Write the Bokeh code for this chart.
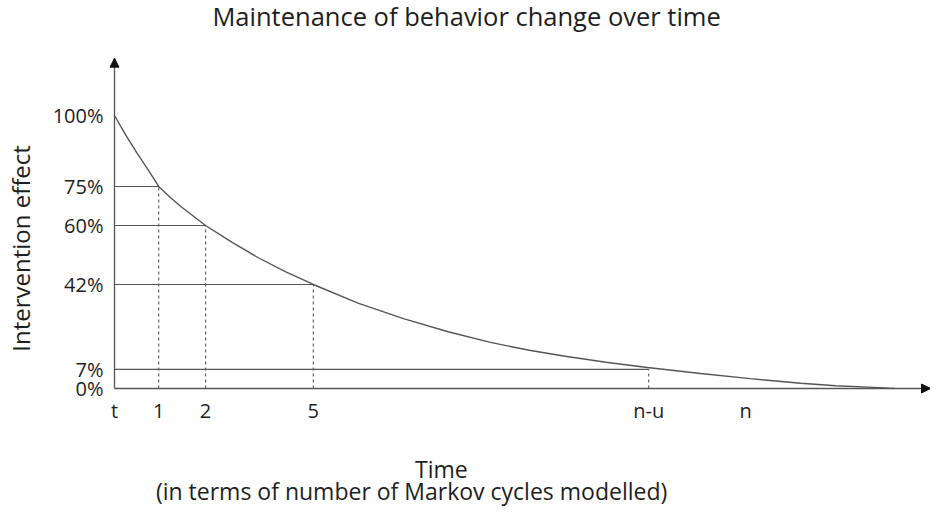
import math
from bokeh.plotting import figure
from bokeh.models import FixedTicker, Range1d, Arrow, NormalHead, Label, LinearAxis
from bokeh.embed import file_html
from bokeh.resources import INLINE

# ---- data ----
X_TICK_POS = [0, 0.98, 2.02, 4.41, 11.85, 14.0]
X_TICK_LABELS = ["t", "1", "2", "5", "n-u", "n"]
Y_TICK_POS = [0, 7.0, 38.1, 59.7, 74.0, 100]
Y_TICK_LABELS = ["0%", "7%", "42%", "60%", "75%", "100%"]

curve_x = [0, 0.25, 0.5, 0.75, 0.98, 1.25, 1.5, 2.02, 2.6, 3.2, 3.8, 4.41, 5.4, 6.41, 7.4,
           8.34, 9.2, 9.96, 10.9, 11.82, 13.0, 14.1, 15.22, 16.0, 16.84, 17.3]
curve_y = [100, 92.8, 86.2, 80.0, 74.0, 69.8, 66.3, 59.7, 53.6, 47.8, 42.7, 38.1, 31.3, 25.6, 20.8,
           16.9, 14.0, 11.9, 9.6, 7.7, 5.5, 3.6, 1.9, 1.0, 0.4, 0.0]

guide_x = [0.98, 2.02, 4.41, 11.85]
guide_y = [74.0, 59.7, 38.1, 7.0]

TITLE = "Maintenance of behavior change over time"
X_LABEL_1 = "Time"
X_LABEL_2 = "(in terms of number of Markov cycles modelled)"
Y_LABEL = "Intervention effect"

X_END = 18.1   # end of the time axis (arrow tip)
Y_END = 121    # end of the effect axis (arrow tip)

FONT = "Open Sans"
TXT = "#1e1e1e"
LINE = "#555555"

W, H = 930, 507
p = figure(width=W, height=H, output_backend="svg", toolbar_location=None,
           x_range=Range1d(-2.529, 18.10), y_range=Range1d(-43.59, 142.12),
           min_border=0, min_border_left=0, min_border_right=0,
           min_border_top=0, min_border_bottom=0,
           x_axis_location=None, y_axis_location=None)
p.outline_line_color = None
p.grid.visible = False
p.background_fill_color = "white"
p.border_fill_color = "white"

xa = LinearAxis(fixed_location=0, bounds=(0, X_END))
ya = LinearAxis(fixed_location=0, bounds=(0, Y_END))
p.add_layout(xa, "below")
p.add_layout(ya, "left")

for ax in (xa, ya):
    ax.axis_line_color = LINE
    ax.axis_line_width = 1.3
    ax.major_tick_line_color = None
    ax.minor_tick_line_color = None
    ax.major_label_text_font = FONT
    ax.major_label_text_font_size = "20px"
    ax.major_label_text_color = TXT

xa.ticker = FixedTicker(ticks=X_TICK_POS)
xa.major_label_overrides = {v: s for v, s in zip(X_TICK_POS, X_TICK_LABELS)}
xa.major_label_standoff = 3

ya.ticker = FixedTicker(ticks=Y_TICK_POS)
ya.major_label_overrides = {v: s for v, s in zip(Y_TICK_POS, Y_TICK_LABELS)}
ya.major_label_standoff = 5

# guide lines
for gx, gy in zip(guide_x, guide_y):
    p.line([0, gx], [gy, gy], line_color=LINE, line_width=1.1)
    p.line([gx, gx], [0, gy], line_color=LINE, line_width=1.1, line_dash="3 3")

# curve
p.line(curve_x, curve_y, line_color=LINE, line_width=1.4)

# axis arrow heads
p.add_layout(Arrow(end=NormalHead(size=9, fill_color="#111111", line_color="#111111"),
                   x_start=X_END - 0.3, y_start=0, x_end=X_END, y_end=0, line_alpha=0))
p.add_layout(Arrow(end=NormalHead(size=9, fill_color="#111111", line_color="#111111"),
                   x_start=0, y_start=Y_END - 3, x_end=0, y_end=Y_END, line_alpha=0))

# texts
def lab(text, x, y, size, angle=0.0):
    p.add_layout(Label(text=text, x=x, y=y, angle=angle, text_align="center",
                       text_baseline="alphabetic", text_font=FONT, text_font_size=size,
                       text_color=TXT))

lab(TITLE, 7.81, 136.6, "25.5px")
lab(X_LABEL_1, 7.25, -29.67, "23px")
lab(X_LABEL_2, 6.59, -37.55, "23px")
lab(Y_LABEL, -2.085, 51.3, "24px", angle=math.pi / 2)

open("out.html", "w").write(file_html(p, INLINE))
